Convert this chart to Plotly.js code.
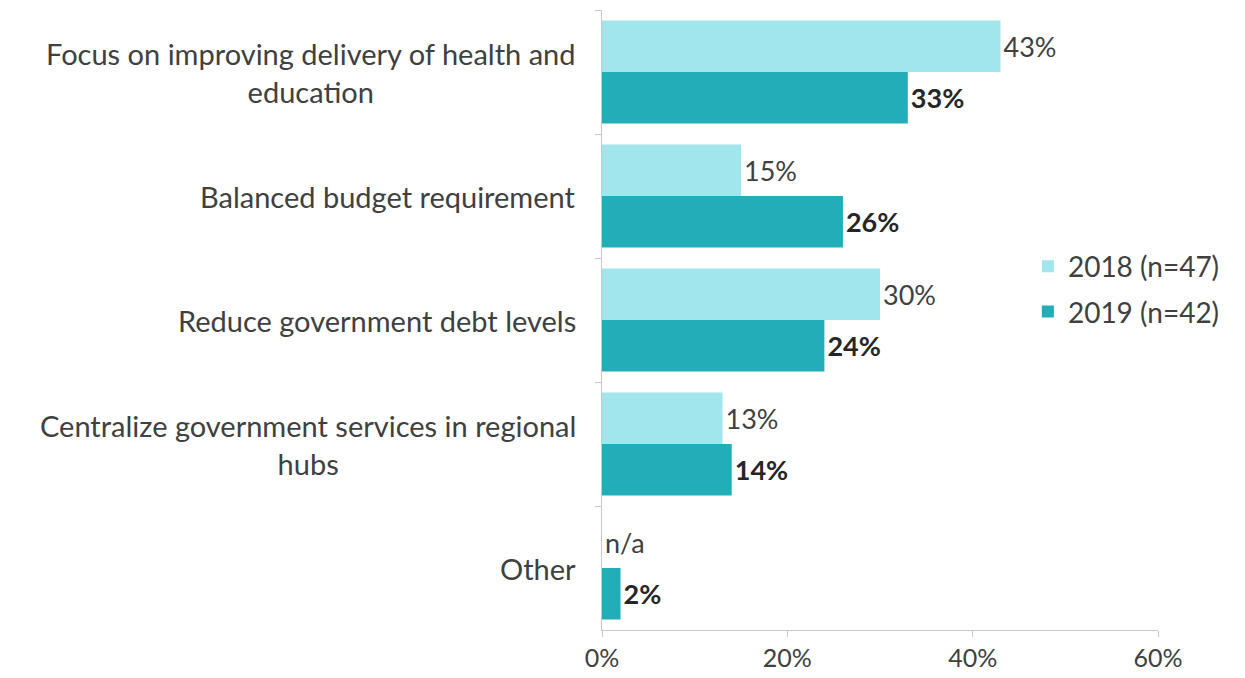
<!DOCTYPE html>
<html><head><meta charset="utf-8">
<script src="https://cdn.plot.ly/plotly-3.0.1.min.js"></script>
<style>html,body{margin:0;padding:0;background:#fff;}</style>
</head><body>
<div id="chart" style="width:1245px;height:678px;"></div>
<script>
const categories = [
  "Focus on improving delivery of health and<br>education",
  "Balanced budget requirement",
  "Reduce government debt levels",
  "Centralize government services in regional<br>hubs",
  "Other"
];
const values2018 = [43, 15, 30, 13, 0];
const labels2018 = ["43%", "15%", "30%", "13%", "n/a"];
const values2019 = [33, 26, 24, 14, 2];
const labels2019 = ["<b>33%</b>", "<b>26%</b>", "<b>24%</b>", "<b>14%</b>", "<b>2%</b>"];
const seriesNames = ["2018 (n=47)", "2019 (n=42)"];
const xTickVals = [0, 20, 40, 60];
const xTickText = ["0%", "20%", "40%", "60%"];

const FONT = "Lato, 'Open Sans', sans-serif";
const TXT = "#404040";

const traces = [
  {type: "bar", orientation: "h", name: seriesNames[0], y: categories, x: values2018,
   text: labels2018, textposition: "outside", cliponaxis: false,
   textfont: {family: FONT, size: 27, color: TXT},
   marker: {color: "#a0e6ec"}, legendgroup: "a", hoverinfo: "none"},
  {type: "bar", orientation: "h", name: seriesNames[1], y: categories, x: values2019,
   text: labels2019, textposition: "outside", cliponaxis: false,
   textfont: {family: FONT, size: 27, color: "#262626"},
   marker: {color: "#23adb8"}, legendgroup: "b", hoverinfo: "none"}
];

const annotations = categories.map(c => ({
  xref: "paper", yref: "y", x: 0, y: c, xanchor: "right", yanchor: "middle",
  xshift: -24, text: c, showarrow: false, align: "center",
  font: {family: FONT, size: 29, color: TXT}
}));

const layout = {
  width: 1245, height: 678,
  margin: {l: 602, r: 87, t: 10, b: 48},
  paper_bgcolor: "#fff", plot_bgcolor: "#fff",
  barmode: "group", bargap: 0.17, bargroupgap: 0,
  font: {family: FONT, size: 22, color: TXT},
  showlegend: true,
  legend: {x: 0.766, y: 0.55, xanchor: "left", yanchor: "middle",
           font: {family: FONT, size: 28, color: TXT}, tracegroupgap: 6,
           traceorder: "grouped", bgcolor: "rgba(0,0,0,0)"},
  xaxis: {range: [0, 60], tickvals: xTickVals, ticktext: xTickText,
          showgrid: false, zeroline: false, showline: true, linecolor: "#c8c8c8", linewidth: 1,
          ticks: "outside", ticklen: 6, tickcolor: "#c8c8c8",
          tickfont: {family: FONT, size: 25, color: TXT}, fixedrange: true},
  yaxis: {type: "category", autorange: "reversed", showticklabels: false,
          showgrid: false, zeroline: false, showline: true, linecolor: "#c8c8c8", linewidth: 1,
          ticks: "outside", ticklen: 6, tickcolor: "#c8c8c8", tickson: "boundaries", fixedrange: true},
  annotations: annotations
};

Plotly.newPlot("chart", traces, layout, {displayModeBar: false, staticPlot: true});
</script>
</body></html>
